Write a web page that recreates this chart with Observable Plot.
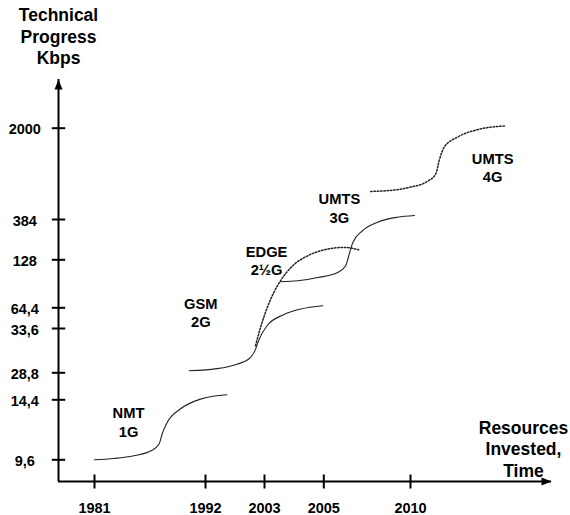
<!DOCTYPE html>
<html><head><meta charset="utf-8">
<script src="https://cdn.jsdelivr.net/npm/d3@7"></script>
<script src="https://cdn.jsdelivr.net/npm/@observablehq/plot@0.6"></script>
<style>body{margin:0;background:#fff} #chart svg{display:block}</style>
</head><body><div id="chart"></div>
<script>
// ---- axis ticks ----
const xTicks = [1981, 1992, 2003, 2005, 2010];
const yTicks = [9.6, 14.4, 28.8, 33.6, 64.4, 128, 384, 2000];
const yTickLabels = ["9,6", "14,4", "28,8", "33,6", "64,4", "128", "384", "2000"];
const xExtent = [1977, 2018];   // axis origin, arrow tip
const yExtent = [8, 2900];      // axis origin, arrow tip

// ---- titles ----
const yTitle = "Technical\nProgress\nKbps";
const xTitle = "Resources\nInvested,\nTime";

// ---- curves (year, Kbps) ----
const nmtYears = [1981.0, 1982.9, 1984.9, 1986.6, 1987.4, 1987.7, 1988.2, 1989.5, 1991.5, 1996.0];
const nmtKbps  = [9.6, 9.7, 9.92, 10.32, 10.86, 11.66, 12.58, 13.66, 14.77, 17.07];

const gsmYears = [1990.4, 1993.5, 1998.0, 2000.4, 2001.3, 2001.9, 2003.09, 2003.64, 2004.22, 2004.97];
const gsmKbps  = [29.02, 29.2, 29.75, 30.47, 31.31, 32.29, 38.0, 54.1, 62.5, 67.05];

const edgeYears = [2001.32, 2002.26, 2003.09, 2003.31, 2003.54, 2003.95, 2004.46, 2005.23, 2006.15, 2007.01];
const edgeKbps  = [31.74, 35.07, 64.4, 84.3, 100.2, 120.05, 153.6, 196.5, 206.7, 192];

const umts3Years = [2003.54, 2004.12, 2004.80, 2005.80, 2006.26, 2006.44, 2006.67, 2007.24, 2008.10, 2009.25, 2010.23];
const umts3Kbps  = [98.85, 100.2, 104.5, 111.2, 120.05, 153.6, 236.8, 313.6, 366.7, 424.8, 455];

const umts4Years = [2007.70, 2008.85, 2010.0, 2010.96, 2011.44, 2011.63, 2011.92, 2012.69, 2013.84, 2015.37];
const umts4Kbps  = [881, 899, 957.6, 1059, 1195.6, 1432, 1668, 1846, 1977, 2041];

// ---- series labels ----
const seriesNames = ["NMT\n1G", "GSM\n2G", "EDGE\n2½G", "UMTS\n3G", "UMTS\n4G"];
const labelYears  = [1984.37, 1991.54, 2003.07, 2005.9, 2014.66];
const labelKbps   = [12.65, 57.7, 128, 592, 1314];

// ---- build tables ----
const curves = [
  {name: "NMT", years: nmtYears, kbps: nmtKbps, dotted: false},
  {name: "GSM", years: gsmYears, kbps: gsmKbps, dotted: false},
  {name: "EDGE", years: edgeYears, kbps: edgeKbps, dotted: true},
  {name: "UMTS3", years: umts3Years, kbps: umts3Kbps, dotted: false},
  {name: "UMTS4", years: umts4Years, kbps: umts4Kbps, dotted: true}
];
const rows = curves.flatMap(c => c.years.map((y, i) => ({name: c.name, year: y, kbps: c.kbps[i], dotted: c.dotted})));
const labels = seriesNames.map((t, i) => ({text: t, year: labelYears[i], kbps: labelKbps[i]}));

// ---- irregular (piecewise) axis layouts ----
const xLayout = d3.scaleLinear().domain([xExtent[0], ...xTicks, xExtent[1]]).range([58, 94, 205, 264, 323.3, 410, 551]);
const yLayout = d3.scaleLinear().domain([yExtent[0], ...yTicks, yExtent[1]]).range([481, 459.3, 399.3, 372.3, 328, 307.3, 259.3, 219, 127.7, 79]);

// ---- symbols ----
const arrowUp = {draw(c) { c.moveTo(0, 0); c.lineTo(4, 10); c.lineTo(-4, 10); c.closePath(); }};
const arrowRight = {draw(c) { c.moveTo(0, 0); c.lineTo(-10, 4); c.lineTo(-10, -4); c.closePath(); }};
const hTick = {draw(c) { c.moveTo(-6.7, 0); c.lineTo(6.7, 0); }};
const vTick = {draw(c) { c.moveTo(0, -7); c.lineTo(0, 7); }};

const font = '"Liberation Sans", Arial, Helvetica, sans-serif';

const chart = Plot.plot({
  width: 570,
  height: 515,
  margin: 0,
  style: {fontFamily: font, background: "#fff", color: "#000", overflow: "visible"},
  x: {axis: null, transform: xLayout, domain: [0, 570], range: [0, 570]},
  y: {axis: null, transform: yLayout, domain: [0, 515], range: [0, 515]},
  marks: [
    // axes lines
    Plot.ruleY([yExtent[0]], {x1: xExtent[0] , x2: xExtent[1], stroke: "#000", strokeWidth: 2}),
    Plot.ruleX([xExtent[0]], {y1: yExtent[0], y2: yExtent[1], stroke: "#000", strokeWidth: 2}),
    Plot.dot([0], {x: xExtent[0], y: yExtent[1], symbol: arrowUp, r: 1, fill: "#000", stroke: null}),
    Plot.dot([0], {x: xExtent[1], y: yExtent[0], symbol: arrowRight, r: 1, fill: "#000", stroke: null}),
    // ticks
    Plot.dot(yTicks, {x: xExtent[0], y: d => d, symbol: hTick, r: 1, fill: "none", stroke: "#000", strokeWidth: 2}),
    Plot.dot(xTicks, {x: d => d, y: yExtent[0], symbol: vTick, r: 1, fill: "none", stroke: "#000", strokeWidth: 2}),
    // tick labels
    Plot.text(yTicks, {x: xExtent[0], y: d => d, text: (d, i) => yTickLabels[i], dx: -33.7, dy: 1.5, textAnchor: "middle", lineAnchor: "middle", lineHeight: 1, fontSize: 14.5, fontWeight: "bold", fill: "#000"}),
    Plot.text(xTicks, {x: d => d, y: yExtent[0], text: d => String(d), dy: 27, textAnchor: "middle", lineAnchor: "middle", lineHeight: 1, fontSize: 14.5, fontWeight: "bold", fill: "#000"}),
    // axis titles
    Plot.text([yTitle], {x: xExtent[0], frameAnchor: "top", text: d => d, lineAnchor: "top", dy: 5.4, lineHeight: 1.23, fontSize: 17.5, fontWeight: "bold", fill: "#000", textAnchor: "middle"}),
    Plot.text([xTitle], {x: xExtent[1], y: yExtent[0], text: d => d, dx: -28, dy: -33, lineAnchor: "middle", lineHeight: 1.23, fontSize: 17.5, fontWeight: "bold", fill: "#000", textAnchor: "middle"}),
    // curves
    Plot.line(rows.filter(d => !d.dotted), {x: "year", y: "kbps", z: "name", curve: "monotone-x", stroke: "#222", strokeWidth: 1.1}),
    Plot.line(rows.filter(d => d.dotted), {x: "year", y: "kbps", z: "name", curve: "monotone-x", stroke: "#222", strokeWidth: 1.5, strokeDasharray: "1.5,1.8"}),
    // series labels
    Plot.text(labels, {x: "year", y: "kbps", text: "text", lineAnchor: "middle", lineHeight: 1.25, fontSize: 14.7, fontWeight: "bold", fill: "#000", textAnchor: "middle"})
  ]
});
document.getElementById("chart").append(chart);
</script>
</body></html>
